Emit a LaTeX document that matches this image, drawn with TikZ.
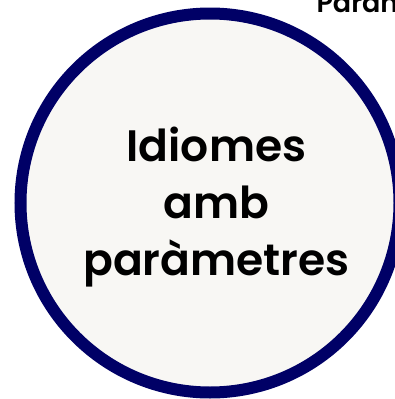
\documentclass[tikz,border=0pt]{standalone}
\usepackage{fontspec}
\setmainfont{Poppins}[BoldFont={Poppins SemiBold}]
\definecolor{ringblue}{HTML}{000066}
\definecolor{discfill}{HTML}{F8F7F4}
\begin{document}
\begin{tikzpicture}[x=1pt,y=-1pt,
  disc/.style={circle,draw=ringblue,line width=12pt,fill=discfill,minimum size=379pt,inner sep=0pt},
  bigtext/.style={font=\bfseries\fontsize{44}{57}\selectfont,align=center,text=black},
  cuttext/.style={font=\bfseries\fontsize{27}{30}\selectfont,anchor=base west,text=black}]
\useasboundingbox (0,0) rectangle (395,399);
\node[disc] (c) at (210,203) {};
\node[bigtext] (t) at (216.5,207) {Idiomes\\amb\\paràmetres};
\node[cuttext] (p) at (313,12) {Paràmetres};
\end{tikzpicture}
\end{document}
